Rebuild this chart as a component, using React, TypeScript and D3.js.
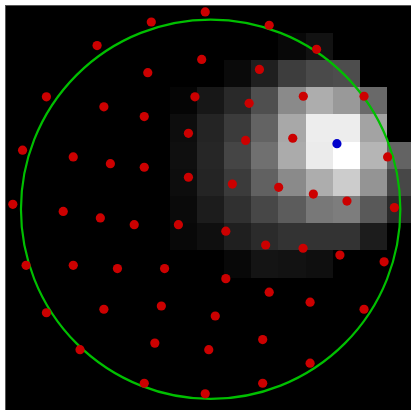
import React from "react";
import * as d3 from "d3";

// Heatmap intensities (0 = black, 1 = white), 15 x 15 grid, row by row (top to bottom)
const heatRows: number[][] = [
  [0, 0, 0, 0, 0, 0, 0, 0, 0, 0, 0, 0, 0, 0, 0],
  [0, 0, 0, 0, 0, 0, 0, 0, 0, 0, 0.03, 0.07, 0, 0, 0],
  [0, 0, 0, 0, 0, 0, 0, 0, 0.04, 0.12, 0.24, 0.29, 0.3, 0, 0],
  [0, 0, 0, 0, 0, 0, 0.02, 0.09, 0.16, 0.31, 0.54, 0.68, 0.6, 0.41, 0],
  [0, 0, 0, 0, 0, 0, 0.05, 0.14, 0.23, 0.39, 0.66, 0.93, 0.93, 0.64, 0],
  [0, 0, 0, 0, 0, 0, 0.06, 0.15, 0.27, 0.44, 0.67, 0.92, 1.0, 0.71, 0.39],
  [0, 0, 0, 0, 0, 0, 0.05, 0.14, 0.23, 0.38, 0.54, 0.68, 0.8, 0.58, 0.28],
  [0, 0, 0, 0, 0, 0, 0.04, 0.11, 0.19, 0.28, 0.36, 0.47, 0.49, 0.35, 0.16],
  [0, 0, 0, 0, 0, 0, 0.03, 0.06, 0.12, 0.17, 0.2, 0.2, 0.2, 0.11, 0],
  [0, 0, 0, 0, 0, 0, 0, 0, 0.03, 0.08, 0.07, 0.06, 0, 0, 0],
  [0, 0, 0, 0, 0, 0, 0, 0, 0, 0, 0, 0, 0, 0, 0],
  [0, 0, 0, 0, 0, 0, 0, 0, 0, 0, 0, 0, 0, 0, 0],
  [0, 0, 0, 0, 0, 0, 0, 0, 0, 0, 0, 0, 0, 0, 0],
  [0, 0, 0, 0, 0, 0, 0, 0, 0, 0, 0, 0, 0, 0, 0],
  [0, 0, 0, 0, 0, 0, 0, 0, 0, 0, 0, 0, 0, 0, 0],
];

// Red sample points (grid units)
const redX = [
  7.3, 5.31, 9.66, 3.31, 7.17, 5.18, 9.3, 1.44, 3.56, 6.92, 8.92, 5.05, 0.56, 6.68, 8.79,
  2.43, 3.8, 5.05, 6.68, 8.3, 10.01, 0.2, 2.06, 3.43, 4.68, 6.31, 8.06, 9.53, 0.69, 2.43,
  4.06, 5.8, 8.06, 9.66, 1.44, 3.56, 5.68, 7.67, 9.42, 2.68, 5.44, 7.43, 5.05, 7.3, 9.42,
  11.41, 10.92, 13.16, 10.53, 14.03, 11.29, 12.53, 14.28, 10.91, 12.27, 13.9, 11.17, 13.16, 11.17,
];
const redY = [
  0.22, 0.59, 0.71, 1.46, 1.97, 2.46, 2.34, 3.35, 3.72, 3.35, 3.59, 4.08, 5.32, 4.7, 4.96,
  5.57, 5.82, 5.95, 6.32, 6.57, 6.69, 7.32, 7.58, 7.82, 8.07, 8.07, 8.31, 8.82, 9.57, 9.57,
  9.69, 9.69, 10.06, 10.56, 11.32, 11.19, 11.07, 11.44, 12.31, 12.68, 12.44, 12.68, 13.92, 14.31, 13.92,
  1.6, 3.33, 3.33, 4.88, 5.57, 6.94, 7.2, 7.44, 8.94, 9.19, 9.44, 10.93, 11.19, 13.18,
];

// Blue point (grid units)
const blueX = [12.16];
const blueY = [5.08];

// Circle (grid units)
const circleCenter = [7.5, 7.5];
const circleRadius = [7];

export default function App() {
  const W = 411;
  const H = 410;
  const x = d3.scaleLinear().domain([0, 15]).range([7.4, 413.9]);
  const y = d3.scaleLinear().domain([0, 15]).range([6, 412.5]);
  const gray = d3.scaleLinear<string>().domain([0, 1]).range(["#000000", "#ffffff"]);
  const cw = x(1) - x(0);
  const ch = y(1) - y(0);

  const cells: { r: number; c: number; v: number }[] = [];
  heatRows.forEach((row, r) =>
    row.forEach((v, c) => {
      if (v > 0) cells.push({ r, c, v });
    })
  );

  const rx = Math.abs(x(circleRadius[0]) - x(0));
  const ry = Math.abs(y(circleRadius[0]) - y(0));

  return (
    <svg
      width={W}
      height={H}
      style={{ position: "absolute", left: 0, top: 0, background: "#ffffff" }}
    >
      <defs>
        <clipPath id="plotClip">
          <rect x={6} y={6} width={W} height={H} />
        </clipPath>
      </defs>
      <rect x={5.5} y={5.5} width={W + 10} height={H + 10} fill="#000000" stroke="#555555" strokeWidth={1} />
      <g clipPath="url(#plotClip)">
        {cells.map((d, i) => (
          <rect
            key={i}
            x={x(d.c)}
            y={y(d.r)}
            width={cw + 0.5}
            height={ch + 0.5}
            fill={gray(d.v)}
            shapeRendering="crispEdges"
          />
        ))}
        <ellipse
          cx={x(circleCenter[0])}
          cy={y(circleCenter[1])}
          rx={rx}
          ry={ry}
          fill="none"
          stroke="#00bf00"
          strokeWidth={2.2}
        />
        {redX.map((vx, i) => (
          <circle key={"r" + i} cx={x(vx)} cy={y(redY[i])} r={4.6} fill="#cc0000" />
        ))}
        {blueX.map((vx, i) => (
          <circle key={"b" + i} cx={x(vx)} cy={y(blueY[i])} r={4.6} fill="#0000cc" />
        ))}
      </g>
    </svg>
  );
}
